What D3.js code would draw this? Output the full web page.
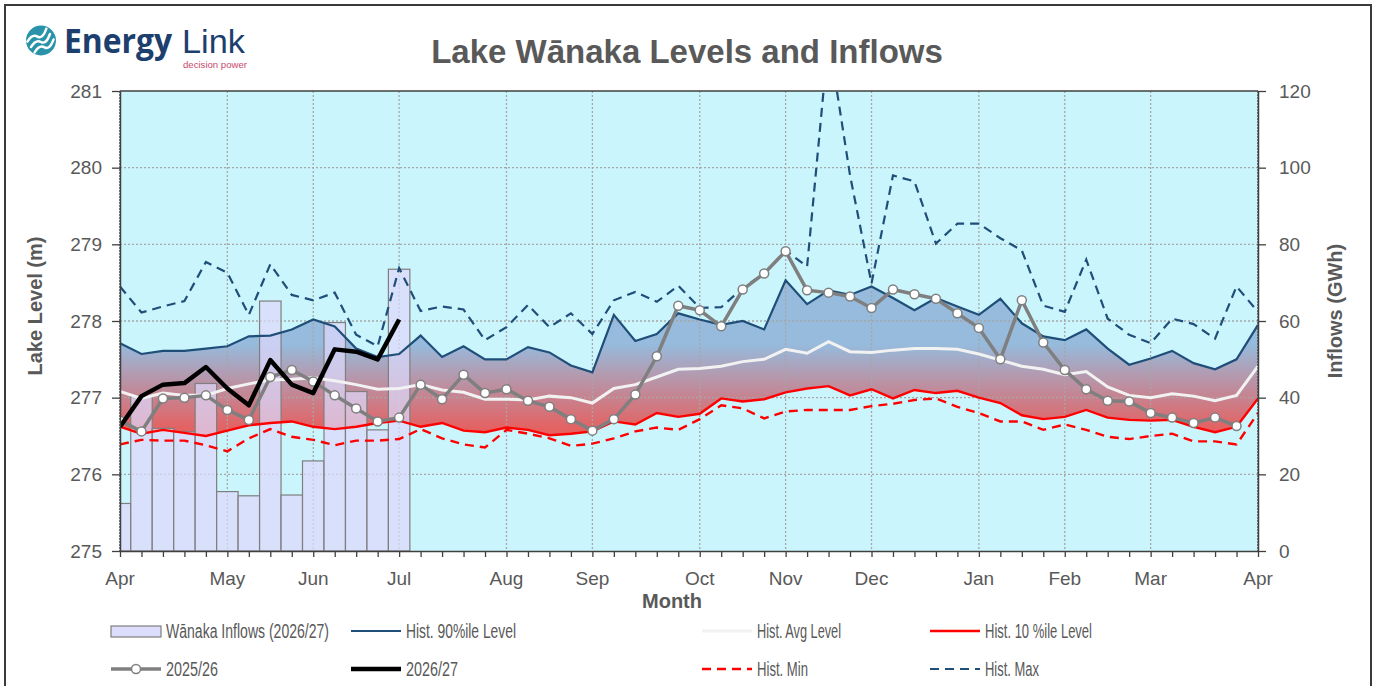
<!DOCTYPE html>
<html>
<head>
<meta charset="utf-8">
<script src="https://cdn.jsdelivr.net/npm/d3@7"></script>
<style>
  body { margin: 0; background: #ffffff; }
  text { font-family: "Liberation Sans", Arial, sans-serif; }
</style>
</head>
<body>
<div id="chart"></div>
<script>
// weekly points, April to April (54 points)
var monthLabels = ["Apr","May","Jun","Jul","Aug","Sep","Oct","Nov","Dec","Jan","Feb","Mar","Apr"];
var monthWeek = [0,5,9,13,18,22,27,31,35,40,44,48,53];
var levelTicks = [275,276,277,278,279,280,281];
var inflowTicks = [0,20,40,60,80,100,120];

var inflows = [12.4,40.3,32.0,31.1,43.7,15.5,14.4,65.2,14.6,23.5,59.6,41.6,31.6,73.5];

var p90 = [277.71,277.57,277.61,277.61,277.64,277.67,277.80,277.81,277.89,278.02,277.93,277.64,277.53,277.57,
  277.81,277.53,277.67,277.50,277.50,277.66,277.59,277.42,277.33,278.08,277.74,277.83,278.10,278.02,277.95,
  278.00,277.89,278.53,278.22,278.40,278.34,278.45,278.30,278.14,278.30,278.19,278.08,278.29,277.97,277.80,
  277.75,277.89,277.64,277.43,277.51,277.61,277.45,277.37,277.50,277.95];
var avg = [277.08,276.99,277.06,277.03,277.03,277.12,277.18,277.23,277.24,277.26,277.22,277.17,277.11,277.12,
  277.17,277.10,277.07,276.98,276.98,276.97,277.02,277.00,276.93,277.12,277.17,277.27,277.37,277.38,277.41,
  277.47,277.50,277.63,277.58,277.73,277.60,277.59,277.62,277.64,277.64,277.63,277.57,277.49,277.41,277.37,
  277.30,277.34,277.14,277.03,277.00,277.05,277.02,276.96,277.03,277.41];
var p10 = [276.62,276.53,276.58,276.54,276.50,276.57,276.64,276.67,276.69,276.62,276.59,276.62,276.67,276.70,
  276.62,276.67,276.57,276.55,276.61,276.58,276.51,276.53,276.56,276.69,276.65,276.80,276.75,276.79,276.99,
  276.95,276.98,277.07,277.12,277.15,277.03,277.11,276.99,277.10,277.06,277.09,277.00,276.93,276.77,276.72,
  276.75,276.84,276.74,276.71,276.70,276.71,276.62,276.55,276.62,276.99];
var histMin = [276.39,276.45,276.44,276.44,276.38,276.30,276.47,276.59,276.49,276.45,276.38,276.44,276.44,276.46,
  276.59,276.47,276.39,276.35,276.58,276.53,276.47,276.37,276.40,276.47,276.56,276.61,276.58,276.72,276.90,
  276.86,276.73,276.82,276.84,276.84,276.84,276.89,276.92,276.97,276.99,276.88,276.80,276.69,276.69,276.58,
  276.65,276.58,276.49,276.46,276.50,276.53,276.43,276.43,276.39,276.80];
var histMax = [278.45,278.11,278.19,278.26,278.77,278.63,278.08,278.74,278.34,278.27,278.37,277.82,277.67,278.69,
  278.13,278.19,278.15,277.75,277.92,278.21,277.92,278.10,277.83,278.27,278.38,278.25,278.46,278.17,278.18,
  278.43,278.62,278.92,278.71,281.70,279.90,278.49,279.90,279.82,279.01,279.27,279.27,279.08,278.92,278.20,
  278.12,278.80,278.03,277.82,277.71,278.03,277.96,277.77,278.45,278.12];
var y2526 = [276.70,276.56,276.99,277.00,277.03,276.84,276.71,277.27,277.36,277.21,277.03,276.86,276.69,276.74,
  277.17,276.98,277.30,277.06,277.11,276.96,276.88,276.72,276.57,276.72,277.04,277.54,278.20,278.14,277.93,
  278.41,278.62,278.91,278.40,278.37,278.32,278.17,278.41,278.35,278.29,278.10,277.91,277.50,278.27,277.72,
  277.36,277.11,276.96,276.95,276.80,276.74,276.67,276.74,276.63];
var y2627 = [276.62,277.02,277.17,277.19,277.40,277.12,276.90,277.49,277.17,277.06,277.63,277.60,277.50,278.02];

function init(){
  var W = 1376, H = 686;
  var left = 120, right = 1258, top = 91, bottom = 551;
  var grey = "#595959";

  var svg = d3.select("#chart").append("svg")
    .attr("width", W).attr("height", H);

  // outer frame
  svg.append("rect").attr("x", 5).attr("y", 5).attr("width", 1366).attr("height", 700)
    .attr("fill", "#fff").attr("stroke", "#3a3a3a").attr("stroke-width", 2);

  var x = d3.scaleLinear().domain([0, 53]).range([left, right]);
  var y = d3.scaleLinear().domain([275, 281]).range([bottom, top]);
  var y2 = d3.scaleLinear().domain([0, 120]).range([bottom, top]);
  var step = x(1) - x(0);

  var defs = svg.append("defs");
  defs.append("clipPath").attr("id", "plotclip").append("rect")
    .attr("x", left).attr("y", top).attr("width", right - left).attr("height", bottom - top);
  var grad = defs.append("linearGradient").attr("id", "band")
    .attr("gradientUnits", "userSpaceOnUse")
    .attr("x1", 0).attr("x2", 0).attr("y1", y(277.7)).attr("y2", y(276.6));
  grad.append("stop").attr("offset", "0%").attr("stop-color", "#96bbdd");
  grad.append("stop").attr("offset", "100%").attr("stop-color", "#e46262");

  // plot background
  svg.append("rect").attr("x", left).attr("y", top).attr("width", right - left).attr("height", bottom - top)
    .attr("fill", "#cbf5fc");

  var plot = svg.append("g").attr("clip-path", "url(#plotclip)");

  // band between 10%ile and 90%ile
  plot.append("path").datum(p90)
    .attr("fill", "url(#band)")
    .attr("d", d3.area().x(function(d, i){ return x(i); })
      .y0(function(d, i){ return y(p10[i]); }).y1(function(d){ return y(d); }));

  // gridlines
  plot.selectAll(".hgrid").data(levelTicks.slice(1, 6)).enter().append("line")
    .attr("x1", left).attr("x2", right)
    .attr("y1", function(d){ return y(d); }).attr("y2", function(d){ return y(d); })
    .attr("stroke", "#a6a6a6").attr("stroke-width", 1.3).attr("stroke-dasharray", "2,2");
  plot.selectAll(".vgrid").data(monthWeek.slice(1, 12)).enter().append("line")
    .attr("x1", function(d){ return x(d); }).attr("x2", function(d){ return x(d); })
    .attr("y1", top).attr("y2", bottom)
    .attr("stroke", "#a6a6a6").attr("stroke-width", 1.3).attr("stroke-dasharray", "2,2");

  // inflow bars (secondary axis)
  plot.selectAll(".bar").data(inflows).enter().append("rect")
    .attr("x", function(d, i){ return x(i) - step / 2; })
    .attr("width", step)
    .attr("y", function(d){ return y2(d); })
    .attr("height", function(d){ return bottom - y2(d); })
    .attr("fill", "#dcd8fb").attr("fill-opacity", 0.72)
    .attr("stroke", "#7f7f7f").attr("stroke-width", 1.2);

  var line = d3.line().defined(function(d){ return d != null; })
    .x(function(d, i){ return x(i); }).y(function(d){ return y(d); });

  plot.append("path").datum(histMin).attr("d", line).attr("fill", "none")
    .attr("stroke", "#ff0000").attr("stroke-width", 2.4).attr("stroke-dasharray", "9,6");
  plot.append("path").datum(histMax).attr("d", line).attr("fill", "none")
    .attr("stroke", "#1f4e79").attr("stroke-width", 2.2).attr("stroke-dasharray", "9,6");
  plot.append("path").datum(p90).attr("d", line).attr("fill", "none")
    .attr("stroke", "#1f4e79").attr("stroke-width", 2.2);
  plot.append("path").datum(p10).attr("d", line).attr("fill", "none")
    .attr("stroke", "#ff0000").attr("stroke-width", 2.4);
  plot.append("path").datum(avg).attr("d", line).attr("fill", "none")
    .attr("stroke", "#f2f2f2").attr("stroke-width", 3);
  plot.append("path").datum(y2526).attr("d", line).attr("fill", "none")
    .attr("stroke", "#7f7f7f").attr("stroke-width", 3.5).attr("stroke-linejoin", "round");
  plot.selectAll(".mk").data(y2526).enter().append("circle")
    .attr("cx", function(d, i){ return x(i); }).attr("cy", function(d){ return y(d); })
    .attr("r", 4.5).attr("fill", "#fff").attr("stroke", "#7f7f7f").attr("stroke-width", 1.5);
  plot.append("path").datum(y2627).attr("d", line).attr("fill", "none")
    .attr("stroke", "#000").attr("stroke-width", 4.5).attr("stroke-linejoin", "round");

  // plot border / axes
  svg.append("line").attr("x1", left).attr("x2", right).attr("y1", top).attr("y2", top)
    .attr("stroke", "#404040").attr("stroke-width", 1.5);
  svg.append("line").attr("x1", left).attr("x2", left).attr("y1", top).attr("y2", bottom)
    .attr("stroke", "#404040").attr("stroke-width", 1.3).attr("stroke-dasharray", "2,1");
  svg.append("line").attr("x1", right).attr("x2", right).attr("y1", top).attr("y2", bottom)
    .attr("stroke", "#404040").attr("stroke-width", 1.3).attr("stroke-dasharray", "2,1");

  var axL = svg.append("g").attr("transform", "translate(" + left + ",0)")
    .call(d3.axisLeft(y).tickValues(levelTicks).tickFormat(d3.format("d"))
      .tickSize(8).tickPadding(10).tickSizeOuter(0));
  var axR = svg.append("g").attr("transform", "translate(" + right + ",0)")
    .call(d3.axisRight(y2).tickValues(inflowTicks).tickSize(8).tickPadding(13).tickSizeOuter(0));
  var axB = svg.append("g").attr("transform", "translate(0," + bottom + ")")
    .call(d3.axisBottom(x).tickValues(d3.range(0, 54)).tickSize(6).tickFormat("").tickSizeOuter(0));
  [axL, axR, axB].forEach(function(a){
    a.select(".domain").attr("stroke", "#404040").attr("stroke-width", 1.5);
    a.selectAll(".tick line").attr("stroke", "#404040").attr("stroke-width", 1.3);
    a.selectAll(".tick text").attr("fill", grey).style("font-size", "19px")
      .style("font-family", "'Liberation Sans', Arial, sans-serif");
  });

  // month labels
  svg.selectAll(".mlab").data(monthLabels).enter().append("text")
    .attr("x", function(d, i){ return x(monthWeek[i]); }).attr("y", 585)
    .attr("text-anchor", "middle").attr("fill", grey).style("font-size", "19px")
    .text(function(d){ return d; });

  // axis titles
  svg.append("text").attr("x", 672).attr("y", 608).attr("text-anchor", "middle")
    .attr("fill", grey).style("font-size", "20px").style("font-weight", "bold").text("Month");
  svg.append("text").attr("transform", "translate(42,306) rotate(-90)").attr("text-anchor", "middle")
    .attr("fill", grey).style("font-size", "20px").style("font-weight", "bold").text("Lake Level (m)");
  svg.append("text").attr("transform", "translate(1342,311) rotate(-90)").attr("text-anchor", "middle")
    .attr("fill", grey).style("font-size", "20px").style("font-weight", "bold").text("Inflows (GWh)");

  // title
  svg.append("text").attr("x", 687).attr("y", 63).attr("text-anchor", "middle")
    .attr("fill", grey).style("font-size", "33px").style("font-weight", "bold")
    .text("Lake Wānaka Levels and Inflows");

  // logo
  var logo = svg.append("g");
  logo.append("circle").attr("cx", 41).attr("cy", 40.5).attr("r", 15).attr("fill", "#2a93aa");
  [-6, 0, 6].forEach(function(o){
    logo.append("path")
      .attr("d", "M31,47 q5,-8 10,-5 q5,3 9,-8")
      .attr("transform", "translate(" + (o * 0.6) + "," + (o * 0.9) + ")")
      .attr("fill", "none").attr("stroke", "#fff").attr("stroke-width", 2.4).attr("stroke-linecap", "round");
  });
  logo.append("text").attr("x", 64).attr("y", 53).attr("fill", "#1c3f6e")
    .attr("textLength", 108).attr("lengthAdjust", "spacingAndGlyphs")
    .style("font-size", "34px").style("font-weight", "bold")
    .style("font-family", "'Open Sans', sans-serif").text("Energy");
  logo.append("text").attr("x", 182).attr("y", 53).attr("fill", "#1c3f6e")
    .attr("textLength", 63).attr("lengthAdjust", "spacingAndGlyphs")
    .style("font-size", "33px").text("Link");
  logo.append("text").attr("x", 183).attr("y", 68).attr("fill", "#c8486c")
    .attr("textLength", 64).attr("lengthAdjust", "spacingAndGlyphs")
    .style("font-size", "9.5px").text("decision power");

  // legend
  var lg = svg.append("g");
  var items = [
    {name: "Wānaka Inflows (2026/27)", type: "bar", x: 111, y: 631, tw: 163},
    {name: "Hist. 90%ile Level", type: "line", color: "#1f4e79", w: 2.2, x: 351, y: 631, tw: 110},
    {name: "Hist. Avg Level", type: "line", color: "#f2f2f2", w: 3, x: 702, y: 631, tw: 84},
    {name: "Hist. 10 %ile Level", type: "line", color: "#ff0000", w: 2.4, x: 930, y: 631, tw: 107},
    {name: "2025/26", type: "marker", color: "#7f7f7f", w: 3.5, x: 111, y: 669, tw: 52},
    {name: "2026/27", type: "line", color: "#000000", w: 4.5, x: 351, y: 669, tw: 52},
    {name: "Hist. Min", type: "line", color: "#ff0000", w: 2.4, dash: "9,6", x: 702, y: 669, tw: 51},
    {name: "Hist. Max", type: "line", color: "#1f4e79", w: 2.2, dash: "9,6", x: 930, y: 669, tw: 54}
  ];
  items.forEach(function(it){
    if (it.type === "bar") {
      lg.append("rect").attr("x", it.x).attr("y", it.y - 5).attr("width", 50).attr("height", 11)
        .attr("fill", "#dcdcfb").attr("stroke", "#7f7f7f").attr("stroke-width", 1.2);
    } else {
      lg.append("line").attr("x1", it.x).attr("x2", it.x + 50).attr("y1", it.y).attr("y2", it.y)
        .attr("stroke", it.color).attr("stroke-width", it.w).attr("stroke-dasharray", it.dash || null);
      if (it.type === "marker") {
        lg.append("circle").attr("cx", it.x + 25).attr("cy", it.y).attr("r", 4.5)
          .attr("fill", "#fff").attr("stroke", it.color).attr("stroke-width", 1.5);
      }
    }
    lg.append("text").attr("x", it.x + 55).attr("y", it.y + 7).attr("fill", grey)
      .attr("textLength", it.tw).attr("lengthAdjust", "spacingAndGlyphs")
      .style("font-size", "19.5px").text(it.name);
  });
}
window.onload = init;
</script>
</body>
</html>
